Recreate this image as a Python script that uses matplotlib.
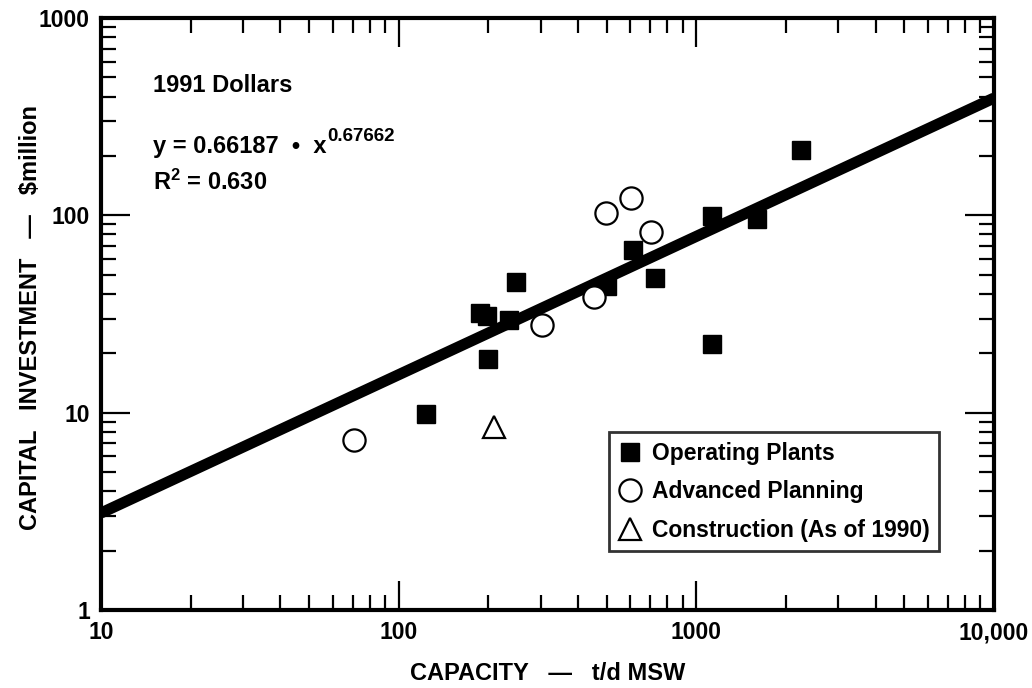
import matplotlib
matplotlib.use("Agg")
import matplotlib.pyplot as plt
from matplotlib.ticker import FixedLocator, FixedFormatter, LogLocator, NullFormatter
import numpy as np

# ---- data ----
op_x = [124, 187, 198, 199, 235, 248, 500, 614, 726, 1130, 1130, 1594, 2245]
op_y = [9.9, 32.1, 30.9, 18.7, 29.5, 46, 43.8, 66.7, 47.9, 99.2, 22.4, 95.4, 214]
adv_x = [71, 302, 453, 499, 603, 702]
adv_y = [7.26, 27.8, 38.4, 103, 123, 82.6]
con_x = [209]
con_y = [8.5]

# fitted line as drawn in the figure (end points)
fit_x = [10, 10000]
fit_y = [3.10, 393]

x_ticks = [10, 100, 1000, 10000]
x_ticklabels = ["10", "100", "1000", "10,000"]
y_ticks = [1, 10, 100, 1000]
y_ticklabels = ["1", "10", "100", "1000"]

FONT = ["Liberation Sans", "DejaVu Sans"]
plt.rcParams["font.family"] = FONT
plt.rcParams["font.weight"] = "bold"
plt.rcParams["mathtext.fontset"] = "custom"
plt.rcParams["mathtext.rm"] = "Liberation Sans:bold"
plt.rcParams["mathtext.it"] = "Liberation Sans:bold"
plt.rcParams["mathtext.bf"] = "Liberation Sans:bold"

fig = plt.figure(figsize=(10.32, 6.88), dpi=100)
ax = fig.add_axes([101/1032, 78/688, 893/1032, 592/688])
ax.set_xscale("log")
ax.set_yscale("log")
ax.set_xlim(10, 10000)
ax.set_ylim(1, 1000)

ax.plot(fit_x, fit_y, color="black", lw=8, solid_capstyle="butt", zorder=2)

ax.plot(op_x, op_y, "s", color="black", markersize=12.5, label="Operating Plants", zorder=3)
ax.plot(adv_x, adv_y, "o", markerfacecolor="white", markeredgecolor="black",
        markeredgewidth=1.6, markersize=16, label="Advanced Planning", zorder=4)
ax.plot(con_x, con_y, "^", markerfacecolor="white", markeredgecolor="black",
        markeredgewidth=1.6, markersize=16, label="Construction (As of 1990)", zorder=4)

# ticks
ax.xaxis.set_major_locator(FixedLocator(x_ticks))
ax.xaxis.set_major_formatter(FixedFormatter(x_ticklabels))
ax.yaxis.set_major_locator(FixedLocator(y_ticks))
ax.yaxis.set_major_formatter(FixedFormatter(y_ticklabels))
ax.xaxis.set_minor_locator(LogLocator(base=10, subs=np.arange(2, 10)))
ax.yaxis.set_minor_locator(LogLocator(base=10, subs=np.arange(2, 10)))
ax.xaxis.set_minor_formatter(NullFormatter())
ax.yaxis.set_minor_formatter(NullFormatter())
ax.tick_params(which="both", direction="in", top=True, right=True, width=1.6, color="black")
ax.tick_params(which="major", length=21, labelsize=16.5, pad=8)
ax.tick_params(which="minor", length=11)
for lab in ax.get_xticklabels() + ax.get_yticklabels():
    lab.set_fontweight("bold")

for sp in ax.spines.values():
    sp.set_linewidth(3)

# axis labels
ax.set_xlabel("CAPACITY   —   t/d MSW", fontsize=17, fontweight="bold")
ax.xaxis.set_label_coords(0.5, -0.088)
ax.set_ylabel("CAPITAL   INVESTMENT   —   \\$million", fontsize=17, fontweight="bold")
ax.yaxis.set_label_coords(-0.066, 0.494)

# annotations
ax.text(0.058, 0.875, "1991 Dollars", transform=ax.transAxes, fontsize=17,
        fontweight="bold", va="baseline", ha="left")
t_eq = ax.text(0.058, 0.772, "y = 0.66187  •  x", transform=ax.transAxes, fontsize=17,
               fontweight="bold", va="baseline", ha="left")
ax.annotate("0.67662", xy=(1, 1), xycoords=t_eq, xytext=(1, 5),
            textcoords="offset points", fontsize=13.5, fontweight="bold",
            ha="left", va="top")
ax.text(0.058, 0.7095, "R$^{2}$ = 0.630", transform=ax.transAxes, fontsize=17,
        fontweight="bold", va="baseline", ha="left")

leg = ax.legend(loc="upper left", bbox_to_anchor=(0.569, 0.3007), borderaxespad=0,
                frameon=True, fancybox=False, numpoints=1,
                handlelength=1.0, handletextpad=0.45, labelspacing=0.68,
                borderpad=0.42, prop={"weight": "bold", "size": 16.5})
leg.get_frame().set_edgecolor("black")
leg.get_frame().set_linewidth(2)
leg.set_zorder(5)

fig.savefig("out.png", dpi=100)
